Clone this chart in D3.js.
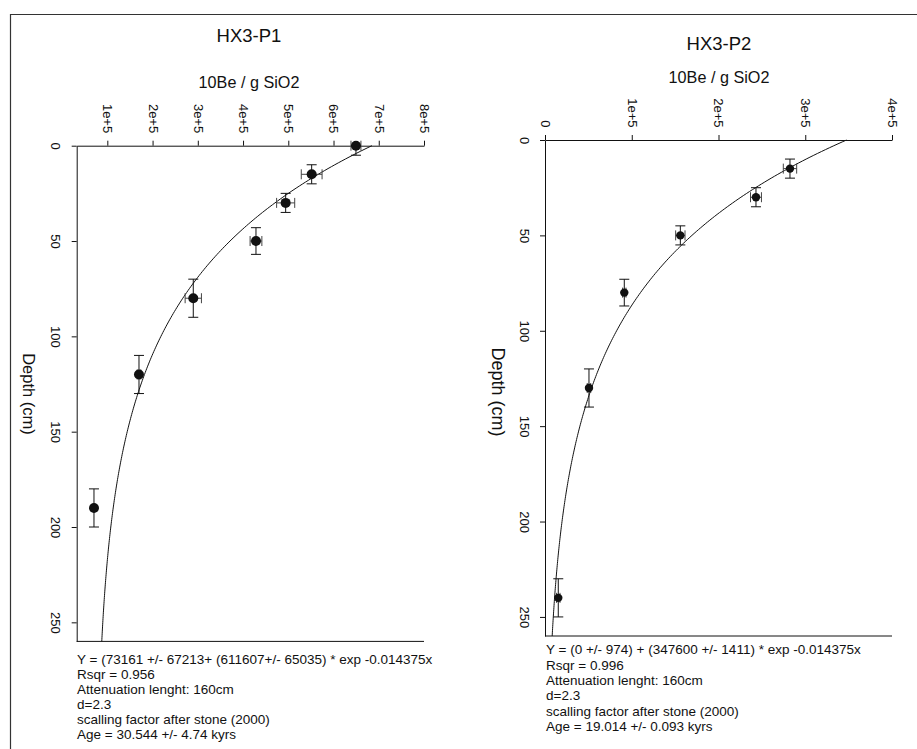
<!DOCTYPE html>
<html>
<head>
<meta charset="utf-8">
<script src="https://cdn.jsdelivr.net/npm/d3@7"></script>
<style>
  body { margin: 0; background: #fff; }
  svg { display: block; }
  text { font-family: "Liberation Sans", Arial, sans-serif; fill: #111; }
</style>
</head>
<body>
<svg id="chart" width="917" height="749"></svg>
<script>
// P1 profile: depth (cm), 10Be concentration and their errors
const p1Depth    = [0, 15, 30, 50, 80, 120, 190]
const p1Be       = [649600, 551700, 494200, 428600, 290000, 170000, 70500]
const p1BeErr    = [11000, 23000, 20000, 13000, 18000, 4000, 0]
const p1DepthErr = [5, 5, 5, 7, 10, 10, 10]

// P2 profile
const p2Depth    = [15, 30, 50, 80, 130, 240]
const p2Be       = [282400, 243200, 156000, 91400, 50700, 15300]
const p2BeErr    = [7700, 6300, 5400, 2000, 2000, 2000]
const p2DepthErr = [5, 5, 5, 7, 10, 10]

// fit coefficients as printed under each panel: Y = a + b * exp(-k x)
const p1Fit = [73161, 611607, 0.014375]
const p2Fit = [0, 347600, 0.014375]

// tick values
const p1XTicks = [1e5, 2e5, 3e5, 4e5, 5e5, 6e5, 7e5, 8e5]
const p2XTicks = [0, 1e5, 2e5, 3e5, 4e5]
const depthTicks = [0, 50, 100, 150, 200, 250]

const p1Notes = [
  "Y = (73161 +/- 67213+ (611607+/- 65035) * exp -0.014375x",
  "Rsqr = 0.956",
  "Attenuation lenght: 160cm",
  "d=2.3",
  "scalling factor after stone (2000)",
  "Age =  30.544 +/- 4.74 kyrs"
]
const p2Notes = [
  "Y = (0 +/- 974) + (347600 +/- 1411) * exp -0.014375x",
  "Rsqr = 0.996",
  "Attenuation lenght: 160cm",
  "d=2.3",
  "scalling factor after stone (2000)",
  "Age = 19.014 +/- 0.093 kyrs"
]

const svg = d3.select('#chart')
const font = '"Liberation Sans", Arial, sans-serif'

svg.append('rect').attr('width', 917).attr('height', 749).attr('fill', '#fff')

// outer frame (top and left only)
svg.append('path')
    .attr('d', 'M10.5,749V14.5H917')
    .attr('fill', 'none')
    .attr('stroke', '#333')
    .attr('stroke-width', 1.2)

const fmt = d => d === 0 ? '0' : (d / 1e5) + 'e+5'

function panel(opt) {
    const x = d3.scaleLinear(opt.xDomain, opt.xRange)
    const y = d3.scaleLinear([0, 260], opt.yRange)
    const g = svg.append('g')

    // top axis
    const xa = g.append('g')
        .attr('transform', `translate(0,${opt.yRange[0]})`)
        .call(d3.axisTop(x).tickValues(opt.xTicks).tickFormat(fmt).tickSize(5).tickSizeOuter(0))
    // left axis
    const ya = g.append('g')
        .attr('transform', `translate(${opt.xRange[0]},0)`)
        .call(d3.axisLeft(y).tickValues(depthTicks).tickSize(5).tickSizeOuter(0))

    xa.selectAll('path, line').attr('stroke', '#111')
    ya.selectAll('path, line').attr('stroke', '#111')

    xa.selectAll('text')
        .attr('y', null)
        .attr('dy', '0.35em')
        .attr('transform', 'translate(0,-12.5) rotate(90)')
        .attr('text-anchor', 'end')
        .attr('font-size', '13px')
        .attr('font-family', font)

    ya.selectAll('text')
        .attr('x', null)
        .attr('dy', null)
        .attr('transform', 'translate(-25.5,0) rotate(90)')
        .attr('text-anchor', 'middle')
        .attr('font-size', '13px')
        .attr('font-family', font)

    // bottom line of the box
    g.append('line')
        .attr('x1', opt.xRange[0]).attr('x2', opt.xRange[1])
        .attr('y1', opt.yRange[1]).attr('y2', opt.yRange[1])
        .attr('stroke', '#111')

    // fitted curve
    const [a, b, k] = opt.fit
    const curve = d3.range(0, 260.5, 1).map(z => [a + b * Math.exp(-k * z), z])
    g.append('path')
        .datum(curve)
        .attr('fill', 'none')
        .attr('stroke', '#111')
        .attr('stroke-width', 1)
        .attr('d', d3.line(d => x(d[0]), d => y(d[1])))

    const pts = opt.depth.map((d, i) => ({
        depth: d, be: opt.be[i], beErr: opt.beErr[i], dErr: opt.dErr[i]
    }))
    const cap = 5

    // horizontal error bars
    const hb = g.append('g').attr('stroke', '#444').attr('stroke-width', 1)
    pts.forEach(p => {
        if (!p.beErr) return
        const x0 = x(p.be - p.beErr), x1 = x(p.be + p.beErr), yy = y(p.depth)
        hb.append('line').attr('x1', x0).attr('x2', x1).attr('y1', yy).attr('y2', yy)
        hb.append('line').attr('x1', x0).attr('x2', x0).attr('y1', yy - cap).attr('y2', yy + cap)
        hb.append('line').attr('x1', x1).attr('x2', x1).attr('y1', yy - cap).attr('y2', yy + cap)
    })

    // vertical error bars
    const vb = g.append('g').attr('stroke', '#111').attr('stroke-width', 1)
    pts.forEach(p => {
        const xx = x(p.be)
        const ys = [y(p.depth - p.dErr), y(p.depth + p.dErr)]
        const y0 = Math.max(ys[0], opt.yRange[0])
        vb.append('line').attr('x1', xx).attr('x2', xx).attr('y1', y0).attr('y2', ys[1])
        ys.forEach(yy => {
            if (yy < opt.yRange[0]) return
            vb.append('line').attr('x1', xx - cap).attr('x2', xx + cap).attr('y1', yy).attr('y2', yy)
        })
    })

    g.selectAll('circle')
        .data(pts)
        .join('circle')
        .attr('cx', d => x(d.be))
        .attr('cy', d => y(d.depth))
        .attr('r', opt.r)
        .attr('fill', '#111')

    // titles
    g.append('text')
        .text(opt.title)
        .attr('x', opt.titleX).attr('y', opt.titleY)
        .attr('text-anchor', 'middle')
        .attr('font-size', '18.5px')

    g.append('text')
        .text('10Be / g SiO2')
        .attr('x', opt.titleX).attr('y', opt.subY)
        .attr('text-anchor', 'middle')
        .attr('font-size', '16.2px')

    g.append('text')
        .text('Depth (cm)')
        .attr('text-anchor', 'middle')
        .attr('transform', `translate(${opt.depthX},${opt.depthY}) rotate(90)`)
        .attr('font-size', opt.depthSize)

    // notes under the panel
    g.selectAll('text.note')
        .data(opt.notes)
        .join('text')
        .attr('class', 'note')
        .text(d => d)
        .attr('x', opt.noteX)
        .attr('y', (d, i) => opt.noteY + i * opt.noteStep)
        .attr('font-size', '13.5px')
}

panel({
    xDomain: [32300, 800000], xRange: [76.7, 424],
    yRange: [145.7, 641.4],
    xTicks: p1XTicks,
    depth: p1Depth, be: p1Be, beErr: p1BeErr, dErr: p1DepthErr,
    fit: p1Fit, r: 5,
    title: 'HX3-P1', titleX: 249, titleY: 41.7, subY: 87.5,
    depthX: 22.5, depthY: 394, depthSize: '16.5px',
    notes: p1Notes, noteX: 77, noteY: 664, noteStep: 15
})

panel({
    xDomain: [0, 400000], xRange: [545, 892],
    yRange: [140, 636],
    xTicks: p2XTicks,
    depth: p2Depth, be: p2Be, beErr: p2BeErr, dErr: p2DepthErr,
    fit: p2Fit, r: 4.2,
    title: 'HX3-P2', titleX: 719, titleY: 50, subY: 82.7,
    depthX: 491.5, depthY: 392, depthSize: '18px',
    notes: p2Notes, noteX: 546, noteY: 654.3, noteStep: 15.35
})
</script>
</body>
</html>
